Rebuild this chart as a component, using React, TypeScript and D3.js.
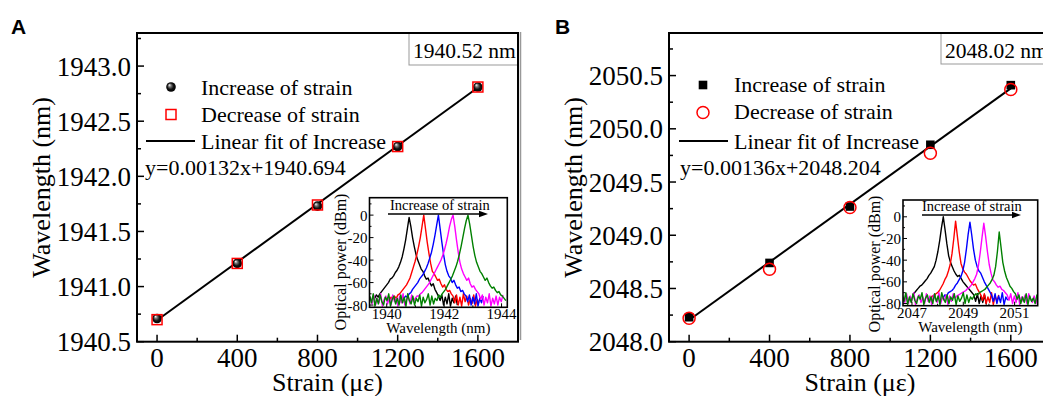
import React, { useEffect, useRef } from 'react'
import * as d3 from 'd3'

// ---- data ----
const strain = [0, 400, 800, 1200, 1600]
const strainTicks = [0, 400, 800, 1200, 1600]

const incA = [1940.71, 1941.21, 1941.73, 1942.27, 1942.81]
const decA = [1940.70, 1941.21, 1941.74, 1942.27, 1942.81]
const incB = [2048.23, 2048.74, 2049.27, 2049.85, 2050.41]
const decB = [2048.22, 2048.68, 2049.26, 2049.77, 2050.37]

const fitA = { slope: 0.00132, intercept: 1940.694 }
const fitB = { slope: 0.00136, intercept: 2048.204 }

const wlTicksA = [1940.5, 1941.0, 1941.5, 1942.0, 1942.5, 1943.0]
const wlTicksB = [2048.0, 2048.5, 2049.0, 2049.5, 2050.0, 2050.5]

const insetTicksA = [1940, 1942, 1944]
const insetTicksB = [2047, 2049, 2051]
const powerTicks = [0, -20, -40, -60, -80]

const legendLabels = ['Increase of strain', 'Decrease of strain', 'Linear fit of Increase']
const fbgA = '1940.52 nm'
const fbgB = '2048.02 nm'

const spectrumColors = ['#000000', '#ff0000', '#0000ff', '#ff00ff', '#008000']

// OSA traces, sampled on a fixed grid (start, step in nm, dBm values)
const spectraA = [
  { start: 1939.58, step: 0.06, values: [-74, -71, -73, -70, -68, -66, -64, -62, -60, -57, -56, -54, -51, -49, -46, -42, -37, -30, -22, -12, -2, -10, -20, -28, -35, -40, -44, -48, -50, -54, -57, -56, -60, -63, -61, -66, -69, -72, -76, -71, -80, -73, -79, -70, -81, -74, -78, -72, -80] },
  { start: 1940.09, step: 0.06, values: [-76, -73, -75, -72, -74, -71, -70, -68, -66, -64, -62, -59, -56, -51, -46, -41, -35, -28, -20, -10, 0, -12, -24, -34, -43, -50, -52, -55, -58, -57, -61, -64, -62, -66, -68, -67, -70, -72, -78, -71, -80, -73, -81, -70, -77, -72, -80, -74, -79, -71, -81, -75, -78] },
  { start: 1940.6, step: 0.06, values: [-74, -72, -73, -70, -69, -66, -64, -62, -60, -57, -55, -53, -50, -47, -43, -38, -33, -26, -18, -9, 0, -12, -24, -35, -44, -50, -54, -56, -60, -58, -62, -65, -64, -68, -67, -70, -72, -77, -71, -80, -73, -79, -70, -81, -74, -78, -72] },
  { start: 1939.43, step: 0.06, values: [-73, -79, -71, -80, -74, -78, -70, -81, -75, -72, -79, -73, -80, -71, -77, -74, -81, -72, -78, -70, -80, -75, -73, -79, -71, -77, -74, -72,
    -72, -70, -69, -67, -65, -63, -61, -58, -55, -52, -49, -46, -43, -40, -36, -31, -25, -18, -10, -4, 0, -10, -22, -33, -42, -48, -52, -55, -58, -56, -61, -64, -63, -66, -68, -70,
    -75, -71, -80, -73, -78, -70, -81, -74, -79, -72, -80, -73, -77, -71] },
  { start: 1939.41, step: 0.06, values: [-72, -78, -70, -81, -74, -79, -71, -77, -80, -73, -76, -70, -81, -75, -72, -79, -74, -80, -71, -78, -73, -81, -70, -76, -79, -72, -80, -74, -77, -71, -81, -73, -78, -75, -70, -80, -72, -79, -74, -76, -71, -73,
    -70, -68, -66, -63, -60, -57, -54, -50, -46, -41, -35, -28, -20, -12, -5, 0, -8, -18, -28, -36, -42, -46, -50, -52, -55, -58, -56, -60, -63, -65, -64, -67, -69, -68, -71, -72, -74, -76] },
]

const spectraB = [
  { start: 2047.03, step: 0.07, values: [-72, -70, -68, -66, -64, -63, -61, -59, -57, -54, -52, -49, -46, -40, -32, -22, -10, 0, -12, -25, -36, -42, -46, -50, -53, -55, -54, -57, -60, -62, -64, -66, -68, -70, -72, -78, -71, -80, -73, -79, -72, -81] },
  { start: 2047.72, step: 0.07, values: [-76, -73, -74, -71, -70, -68, -65, -62, -58, -55, -50, -44, -34, -20, -4, -18, -32, -43, -48, -51, -53, -56, -59, -61, -63, -62, -66, -69, -72, -77, -71, -80, -74, -79, -70, -81, -73, -78, -72] },
  { start: 2048.21, step: 0.07, values: [-75, -72, -73, -70, -69, -68, -66, -63, -61, -58, -55, -50, -42, -30, -16, -5, -17, -30, -40, -46, -50, -52, -56, -60, -63, -66, -69, -72, -78, -71, -80, -73, -79, -70, -81, -74, -77] },
  { start: 2046.65, step: 0.07, values: [-74, -79, -71, -80, -73, -77, -70, -81, -75, -72, -79, -74, -80, -71, -78, -73, -81, -72, -76, -79, -70, -80, -74, -77, -72, -81, -73, -78, -71, -75, -73,
    -72, -71, -70, -69, -68, -66, -65, -63, -60, -57, -53, -45, -33, -19, -6, -18, -32, -44, -52, -58, -60, -63, -65, -64, -67, -68, -70, -72,
    -77, -71, -80, -73, -79, -70, -81, -74, -78, -72, -80, -71, -76, -79, -73, -80, -72] },
  { start: 2046.62, step: 0.07, values: [-72, -78, -70, -81, -74, -79, -71, -77, -80, -73, -76, -70, -81, -75, -72, -79, -74, -80, -71, -78, -73, -81, -70, -76, -79, -72, -80, -74, -77, -71, -81, -73, -78, -75, -70, -80, -72, -79, -74, -76,
    -73, -71, -72, -70, -69, -68, -67, -65, -63, -61, -58, -54, -46, -32, -14, -28, -42, -50, -56, -60, -64, -66, -69, -71,
    -76, -72, -80, -74, -79, -71, -81, -73, -78, -75, -80, -72, -77] },
]

// ---- layout ----
const W = 1043
const H = 396
const SERIF = "'Liberation Serif', 'Times New Roman', Times, serif"

const panels = [
  {
    letter: 'A', letterX: 11, left: 137, top: 33, right: 518, bottom: 341.7,
    yDomain: [1940.5, 1943.3], yTicks: wlTicksA, inc: incA, dec: decA, fit: fitA,
    incShape: 'sphere', decShape: 'square',
    box: { x: 409, w: 109, h: 32, label: fbgA },
    legend: { mx: 171, lx: 146, tx: 201, rows: [87, 114.5, 141], base: [95, 122, 148.5], eqX: 145, eqY: 175 },
    inset: { left: 369.5, top: 197.7, right: 507.3, bottom: 307.3, xDomain: [1939.4, 1944.2], ticks: insetTicksA, spectra: spectraA,
      arrow: [388, 488, 214], textX: 390, textY: 210, ylabX: 346, ylabY: 262 },
  },
  {
    letter: 'B', letterX: 555, left: 669, top: 33, right: 1051, bottom: 341.7,
    yDomain: [2048.0, 2050.9], yTicks: wlTicksB, inc: incB, dec: decB, fit: fitB,
    incShape: 'square', decShape: 'circle',
    box: { x: 941, w: 130, h: 31, label: fbgB },
    legend: { mx: 703, lx: 679, tx: 734, rows: [85, 112.5, 141], base: [92, 119, 148.5], eqX: 680, eqY: 175 },
    inset: { left: 903, top: 200, right: 1037.7, bottom: 305.7, xDomain: [2046.65, 2051.9], ticks: insetTicksB, spectra: spectraB,
      arrow: [922, 1021, 215], textX: 922, textY: 211, ylabX: 880, ylabY: 264 },
  },
]

function marker(g: any, shape: string, cx: number, cy: number) {
  if (shape === 'sphere') {
    g.append('circle').attr('cx', cx).attr('cy', cy).attr('r', 4.8).attr('fill', 'url(#sphere)')
  } else if (shape === 'square') {
    g.append('rect').attr('x', cx - 4.3).attr('y', cy - 4.3).attr('width', 8.6).attr('height', 8.6).attr('fill', '#000')
  } else if (shape === 'opensquare') {
    g.append('rect').attr('x', cx - 5).attr('y', cy - 5).attr('width', 10).attr('height', 10)
      .attr('fill', 'none').attr('stroke', '#ff0000').attr('stroke-width', 1.5)
  } else {
    g.append('circle').attr('cx', cx).attr('cy', cy).attr('r', 6)
      .attr('fill', 'none').attr('stroke', '#ff0000').attr('stroke-width', 1.5)
  }
}

function drawInset(g: any, ins: any, id: string) {
  const x = d3.scaleLinear().domain(ins.xDomain).range([ins.left, ins.right])
  const y = d3.scaleLinear().domain([-82, 15.5]).range([ins.bottom, ins.top])

  g.append('rect').attr('x', ins.left).attr('y', ins.top)
    .attr('width', ins.right - ins.left).attr('height', ins.bottom - ins.top).attr('fill', '#fff')

  g.append('clipPath').attr('id', id).append('rect')
    .attr('x', ins.left).attr('y', ins.top)
    .attr('width', ins.right - ins.left).attr('height', ins.bottom - ins.top)

  const line = d3.line<number>()
  const traces = g.append('g').attr('clip-path', `url(#${id})`)
  ins.spectra.forEach((s: any, i: number) => {
    const pts = s.values.map((v: number, k: number) => [x(s.start + k * s.step), y(v)])
    traces.append('path').attr('d', line(pts)).attr('fill', 'none')
      .attr('stroke', spectrumColors[i]).attr('stroke-width', 1.4).attr('stroke-linejoin', 'round')
  })

  // ticks
  d3.range(-70, 15, 20).forEach(v => {
    g.append('line').attr('x1', ins.left).attr('x2', ins.left + 2).attr('y1', y(v)).attr('y2', y(v)).attr('stroke', '#000')
  })
  powerTicks.forEach(v => {
    g.append('line').attr('x1', ins.left).attr('x2', ins.left + 4).attr('y1', y(v)).attr('y2', y(v)).attr('stroke', '#000')
    g.append('text').attr('x', ins.left - 2).attr('y', y(v) + 5.5).attr('text-anchor', 'end')
      .attr('font-family', SERIF).attr('font-size', 15).text(String(v))
  })
  const t0 = ins.ticks[0]
  d3.range(t0 + 1, ins.ticks[ins.ticks.length - 1], 2).forEach(v => {
    g.append('line').attr('x1', x(v)).attr('x2', x(v)).attr('y1', ins.bottom).attr('y2', ins.bottom - 2).attr('stroke', '#000')
  })
  ins.ticks.forEach((v: number) => {
    g.append('line').attr('x1', x(v)).attr('x2', x(v)).attr('y1', ins.bottom).attr('y2', ins.bottom - 4).attr('stroke', '#000')
    g.append('text').attr('x', x(v)).attr('y', ins.bottom + 12).attr('text-anchor', 'middle')
      .attr('font-family', SERIF).attr('font-size', 15).text(String(v))
  })

  g.append('rect').attr('x', ins.left).attr('y', ins.top)
    .attr('width', ins.right - ins.left).attr('height', ins.bottom - ins.top)
    .attr('fill', 'none').attr('stroke', '#000').attr('stroke-width', 1.6)

  g.append('text').attr('x', (ins.left + ins.right) / 2).attr('y', ins.bottom + 26).attr('text-anchor', 'middle')
    .attr('font-family', SERIF).attr('font-size', 15).text('Wavelength (nm)')
  g.append('text').attr('transform', `translate(${ins.ylabX},${ins.ylabY}) rotate(-90)`).attr('text-anchor', 'middle')
    .attr('font-family', SERIF).attr('font-size', 16).text('Optical power (dBm)')

  // arrow
  const [ax0, ax1, ay] = ins.arrow
  g.append('line').attr('x1', ax0).attr('x2', ax1 - 7).attr('y1', ay).attr('y2', ay).attr('stroke', '#000').attr('stroke-width', 1.4)
  g.append('path').attr('d', `M${ax1},${ay} L${ax1 - 9},${ay - 3.2} L${ax1 - 9},${ay + 3.2} Z`).attr('fill', '#000')
  g.append('text').attr('x', ins.textX).attr('y', ins.textY)
    .attr('font-family', SERIF).attr('font-size', 14.5).text('Increase of strain')
}

function drawPanel(svg: any, p: any, idx: number) {
  const g = svg.append('g')
  const x = d3.scaleLinear().domain([-100, 1800]).range([p.left, p.right])
  const y = d3.scaleLinear().domain(p.yDomain).range([p.bottom, p.top])

  g.append('text').attr('x', p.letterX).attr('y', 34).text(p.letter)
    .attr('font-family', "'Liberation Sans', Arial, sans-serif").attr('font-weight', 'bold').attr('font-size', 21)

  // minor + major ticks, inward
  d3.range(p.yDomain[0] + 0.25, p.yDomain[1], 0.5).forEach((v: number) => {
    g.append('line').attr('x1', p.left).attr('x2', p.left + 4).attr('y1', y(v)).attr('y2', y(v)).attr('stroke', '#000').attr('stroke-width', 1.5)
  })
  p.yTicks.forEach((v: number) => {
    g.append('line').attr('x1', p.left).attr('x2', p.left + 7).attr('y1', y(v)).attr('y2', y(v)).attr('stroke', '#000').attr('stroke-width', 1.5)
    g.append('text').attr('x', p.left - 6).attr('y', y(v) + 9.5).attr('text-anchor', 'end')
      .attr('font-family', SERIF).attr('font-size', 27).text(v.toFixed(1))
  })
  d3.range(200, 1800, 400).forEach((v: number) => {
    g.append('line').attr('x1', x(v)).attr('x2', x(v)).attr('y1', p.bottom).attr('y2', p.bottom - 4).attr('stroke', '#000').attr('stroke-width', 1.5)
  })
  strainTicks.forEach((v: number) => {
    g.append('line').attr('x1', x(v)).attr('x2', x(v)).attr('y1', p.bottom).attr('y2', p.bottom - 7).attr('stroke', '#000').attr('stroke-width', 1.5)
    g.append('text').attr('x', x(v)).attr('y', 367).attr('text-anchor', 'middle')
      .attr('font-family', SERIF).attr('font-size', 27).text(String(v))
  })

  // axis titles
  g.append('text').attr('x', (p.left + p.right) / 2).attr('y', 391).attr('text-anchor', 'middle')
    .attr('font-family', SERIF).attr('font-size', 26).text('Strain (\u03bc\u03b5)')
  g.append('text').attr('transform', `translate(${p.left - 87},${(p.top + p.bottom) / 2}) rotate(-90)`)
    .attr('text-anchor', 'middle').attr('font-family', SERIF).attr('font-size', 26).text('Wavelength (nm)')

  // FBG label box
  g.append('rect').attr('x', p.box.x).attr('y', p.top).attr('width', p.box.w).attr('height', p.box.h)
    .attr('fill', '#fff').attr('stroke', '#999').attr('stroke-width', 1)
  g.append('text').attr('x', p.box.x + 4).attr('y', p.top + 24.5)
    .attr('font-family', SERIF).attr('font-size', 21.5).text(p.box.label)

  // legend
  const L = p.legend
  marker(g, p.incShape, L.mx, L.rows[0])
  marker(g, p.decShape === 'square' ? 'opensquare' : 'opencircle', L.mx, L.rows[1])
  g.append('line').attr('x1', L.lx).attr('x2', L.lx + 49).attr('y1', L.rows[2]).attr('y2', L.rows[2]).attr('stroke', '#000').attr('stroke-width', 2)
  legendLabels.forEach((t: string, i: number) => {
    g.append('text').attr('x', L.tx).attr('y', L.base[i]).attr('font-family', SERIF).attr('font-size', 22).text(t)
  })
  g.append('text').attr('x', L.eqX).attr('y', L.eqY).attr('font-family', SERIF).attr('font-size', 22)
    .text(`y=${p.fit.slope}x+${p.fit.intercept}`)

  // fit line
  const fitLine = d3.line<number>().x((s: number) => x(s)).y((s: number) => y(p.fit.slope * s + p.fit.intercept))
  g.append('path').attr('d', fitLine([strain[0], strain[strain.length - 1]])).attr('stroke', '#000').attr('stroke-width', 2).attr('fill', 'none')

  // data
  strain.forEach((s: number, i: number) => marker(g, p.incShape, x(s), y(p.inc[i])))
  strain.forEach((s: number, i: number) => marker(g, p.decShape === 'square' ? 'opensquare' : 'opencircle', x(s), y(p.dec[i])))

  // frame
  g.append('rect').attr('x', p.left).attr('y', p.top).attr('width', p.right - p.left).attr('height', p.bottom - p.top)
    .attr('fill', 'none').attr('stroke', '#000').attr('stroke-width', 2)

  drawInset(g, p.inset, 'inset-clip-' + idx)
}

export default function App() {
  const ref = useRef<SVGSVGElement>(null)

  useEffect(() => {
    const svg = d3.select(ref.current)
    svg.selectAll('*').remove()

    const grad = svg.append('defs').append('radialGradient').attr('id', 'sphere')
      .attr('cx', '50%').attr('cy', '50%').attr('r', '50%').attr('fx', '32%').attr('fy', '28%')
    grad.append('stop').attr('offset', '0%').attr('stop-color', '#ffffff')
    grad.append('stop').attr('offset', '30%').attr('stop-color', '#777777')
    grad.append('stop').attr('offset', '65%').attr('stop-color', '#111111')
    grad.append('stop').attr('offset', '100%').attr('stop-color', '#000000')

    svg.append('rect').attr('width', W).attr('height', H).attr('fill', '#fff')
    svg.append('line').attr('x1', 520.5).attr('x2', 520.5).attr('y1', 32).attr('y2', 340)
      .attr('stroke', '#999').attr('stroke-width', 1.5)

    panels.forEach((p, i) => drawPanel(svg, p, i))
  }, [])

  return (
    <svg ref={ref} width={W} height={H}
      style={{ position: 'absolute', left: 0, top: 0, display: 'block' }} />
  )
}
